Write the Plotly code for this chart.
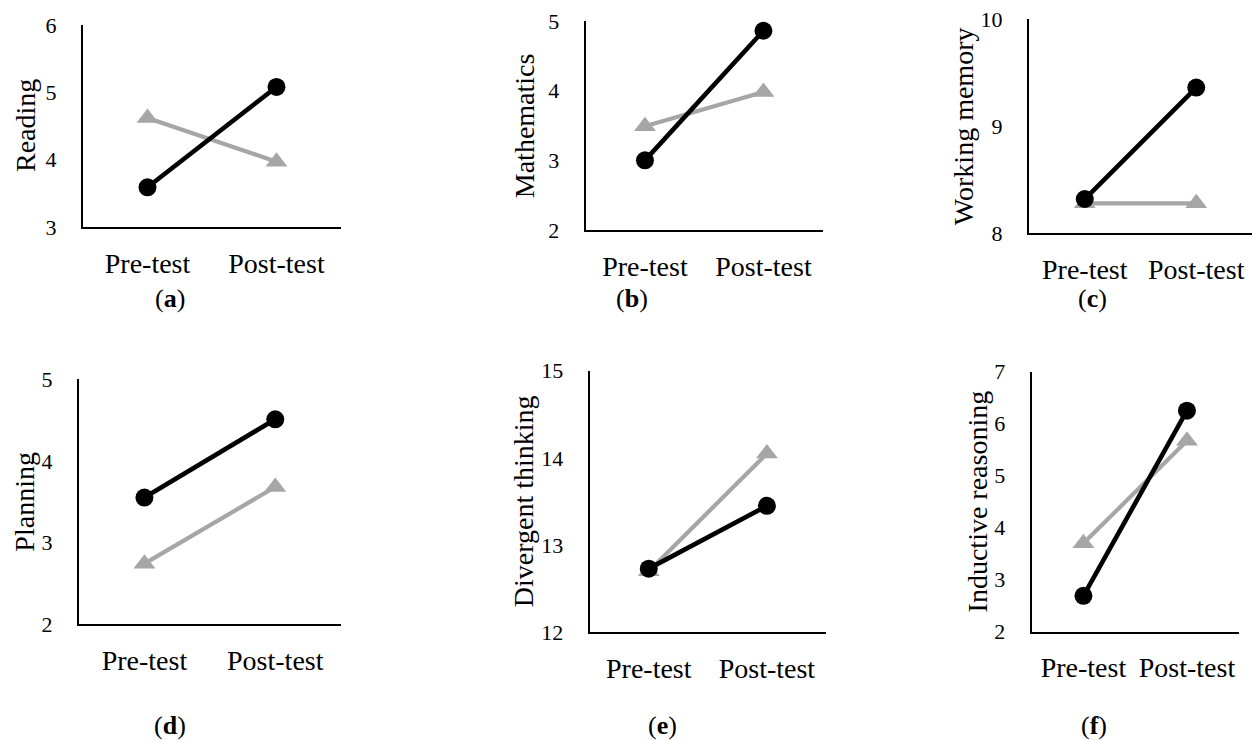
import plotly.graph_objects as go

# ---------------- data ----------------
categories = ["Pre-test", "Post-test"]

reading_black = [3.59, 5.08]
reading_gray = [4.62, 3.97]

math_black = [3.00, 4.86]
math_gray = [3.49, 3.98]

wm_black = [8.32, 9.36]
wm_gray = [8.28, 8.28]

plan_black = [3.55, 4.51]
plan_gray = [2.74, 3.68]

div_black = [12.73, 13.45]
div_gray = [12.70, 14.05]

ind_black = [2.69, 6.25]
ind_gray = [3.70, 5.67]

y_titles = ["Reading", "Mathematics", "Working memory",
            "Planning", "Divergent thinking", "Inductive reasoning"]
y_ranges = [[3, 6], [2, 5], [8, 10], [2, 5], [12, 15], [2, 7]]
panel_letters = ["a", "b", "c", "d", "e", "f"]

black_series = [reading_black, math_black, wm_black, plan_black, div_black, ind_black]
gray_series = [reading_gray, math_gray, wm_gray, plan_gray, div_gray, ind_gray]

# ---------------- layout geometry (pixels in 1252x740) ----------------
W, H = 1252, 740
# (left, right, top, bottom) of each plot area
boxes = [
    (83, 341, 25, 227),
    (585.7, 822.7, 21, 230),
    (1029, 1252, 19, 233.3),
    (79, 340.7, 379.3, 624),
    (589.7, 826, 370.7, 632.3),
    (1031.7, 1238.7, 371.7, 631.7),
]
title_offsets = [58, 61, 66, 54, 66, 54]
label_pos = [(170, 298), (632, 298), (1092, 298), (170, 725), (662, 725), (1094, 725)]

FONT = "Liberation Serif"
GRAY = "#A6A6A6"

fig = go.Figure()
annotations = []
layout = dict(
    template="none",
    width=W, height=H,
    autosize=False,
    margin=dict(l=0, r=0, t=0, b=0, pad=0),
    paper_bgcolor="white", plot_bgcolor="white",
    showlegend=False,
    font=dict(family=FONT, color="black"),
)

for i in range(6):
    n = "" if i == 0 else str(i + 1)
    xa, ya = "x" + n, "y" + n
    l, r, t, b = boxes[i]
    layout["xaxis" + n] = dict(
        domain=[l / W, min(r / W, 1.0)], anchor=ya,
        type="category", range=[-0.5, 1.5],
        automargin=False,
        showline=True, linecolor="black", linewidth=2,
        showgrid=False, zeroline=False,
        ticks="outside", ticklen=10, tickcolor="rgba(0,0,0,0)",
        tickfont=dict(family=FONT, size=28, color="black"),
        fixedrange=True,
    )
    layout["yaxis" + n] = dict(
        domain=[1 - b / H, 1 - t / H], anchor=xa,
        range=y_ranges[i], dtick=1, tick0=0,
        automargin=False,
        showline=True, linecolor="black", linewidth=2,
        showgrid=False, zeroline=False,
        ticks="outside", ticklen=20, tickcolor="rgba(0,0,0,0)",
        tickfont=dict(family=FONT, size=22, color="black"),
        fixedrange=True,
    )
    fig.add_trace(go.Scatter(
        x=categories, y=gray_series[i], xaxis=xa, yaxis=ya,
        mode="lines+markers",
        line=dict(color=GRAY, width=4.2),
        marker=dict(symbol="triangle-up", size=19, color=GRAY, line=dict(width=0)),
        cliponaxis=False,
    ))
    fig.add_trace(go.Scatter(
        x=categories, y=black_series[i], xaxis=xa, yaxis=ya,
        mode="lines+markers",
        line=dict(color="black", width=4.6),
        marker=dict(symbol="circle", size=18, color="black", line=dict(width=0)),
        cliponaxis=False,
    ))
    annotations.append(dict(
        text=y_titles[i], textangle=-90,
        xref=xa + " domain", yref=ya + " domain",
        x=0, y=0.5, xanchor="center", yanchor="middle",
        xshift=-title_offsets[i], showarrow=False,
        font=dict(family=FONT, size=28, color="black"),
    ))
    lx, ly = label_pos[i]
    annotations.append(dict(
        text="(<b>" + panel_letters[i] + "</b>)",
        xref="paper", yref="paper", x=lx / W, y=1 - ly / H,
        xanchor="center", yanchor="middle", showarrow=False,
        font=dict(family=FONT, size=26, color="black"),
    ))

layout["annotations"] = annotations
fig.update_layout(**layout)
fig.write_html(
    "out.html",
    config={"displayModeBar": False},
    post_script="document.body.style.margin='0px';document.body.style.overflow='hidden';",
)
